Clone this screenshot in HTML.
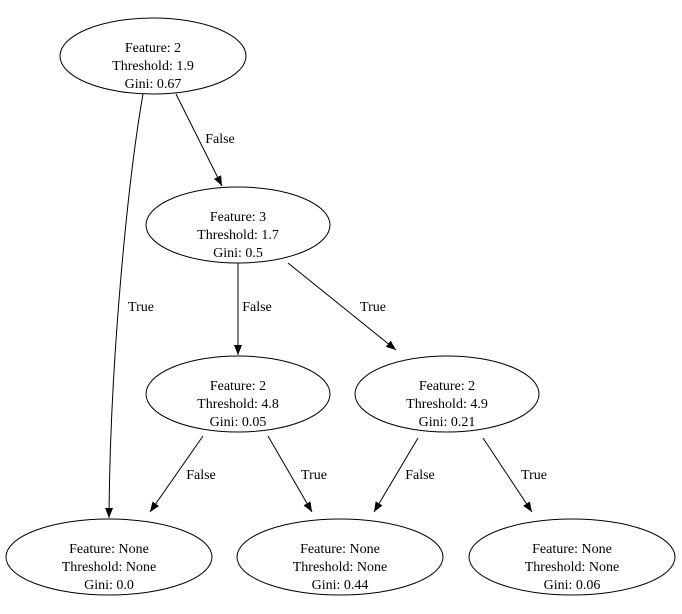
<!DOCTYPE html>
<html><head><meta charset="utf-8"><style>
html,body{margin:0;padding:0;background:#fff}
svg{display:block}
</style></head><body>
<svg width="682" height="614" viewBox="0 0 682 614" xmlns="http://www.w3.org/2000/svg">
<defs><marker id="a" markerWidth="10" markerHeight="8" refX="10" refY="4" orient="auto" markerUnits="userSpaceOnUse"><path d="M0,0 L10,4 L0,8 Z" fill="#000"/></marker></defs>
<g fill="none" stroke="#000" stroke-width="1">
<ellipse cx="153" cy="56" rx="93" ry="38"/>
<ellipse cx="238" cy="225" rx="92" ry="38"/>
<ellipse cx="238" cy="394" rx="92" ry="38"/>
<ellipse cx="447" cy="394" rx="92" ry="38"/>
<ellipse cx="109" cy="557" rx="103" ry="38"/>
<ellipse cx="340" cy="557" rx="103" ry="38"/>
<ellipse cx="572" cy="557" rx="103" ry="38"/>
<path d="M143,94 C128,180 110,360 109,518" marker-end="url(#a)"/>
<path d="M176,94 L222,186" marker-end="url(#a)"/>
<path d="M238,263 L238,355" marker-end="url(#a)"/>
<path d="M288,263 L396,350" marker-end="url(#a)"/>
<path d="M203,436 L150,512" marker-end="url(#a)"/>
<path d="M268,436 L312,512" marker-end="url(#a)"/>
<path d="M418,438 L374,512" marker-end="url(#a)"/>
<path d="M483,438 L532,512" marker-end="url(#a)"/>
</g>
<g text-anchor="middle" font-family="'Liberation Serif', 'Times New Roman', serif" font-size="14" fill="#000" style="font-family:'Liberation Serif','Times New Roman',serif">
<text x="153" y="52">Feature: 2</text><text x="153" y="70">Threshold: 1.9</text><text x="153" y="88">Gini: 0.67</text>
<text x="238" y="221">Feature: 3</text><text x="238" y="239">Threshold: 1.7</text><text x="238" y="257">Gini: 0.5</text>
<text x="238" y="390">Feature: 2</text><text x="238" y="408">Threshold: 4.8</text><text x="238" y="426">Gini: 0.05</text>
<text x="447" y="390">Feature: 2</text><text x="447" y="408">Threshold: 4.9</text><text x="447" y="426">Gini: 0.21</text>
<text x="109" y="553">Feature: None</text><text x="109" y="571">Threshold: None</text><text x="109" y="589">Gini: 0.0</text>
<text x="340" y="553">Feature: None</text><text x="340" y="571">Threshold: None</text><text x="340" y="589">Gini: 0.44</text>
<text x="572" y="553">Feature: None</text><text x="572" y="571">Threshold: None</text><text x="572" y="589">Gini: 0.06</text>
<text x="141" y="311">True</text>
<text x="220" y="143">False</text>
<text x="257" y="311">False</text>
<text x="373" y="311">True</text>
<text x="201" y="479">False</text>
<text x="314" y="479">True</text>
<text x="420" y="479">False</text>
<text x="534" y="479">True</text>
</g>
</svg>
</body></html>
